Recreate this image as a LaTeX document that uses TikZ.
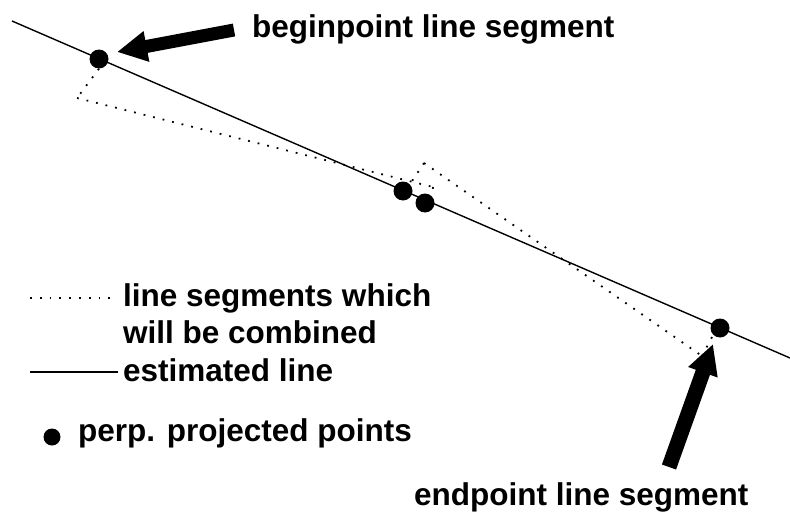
\documentclass[tikz,border=0pt]{standalone}
\usepackage{fontspec}
\setmainfont{Liberation Sans}
\usetikzlibrary{arrows.meta}
\begin{document}
\begin{tikzpicture}[x=1pt,y=-1pt,
  lbl/.style={anchor=base west,inner sep=0pt,font=\bfseries\fontsize{31.5}{36}\selectfont},
  est/.style={line width=1.4pt},
  seg/.style={line width=1.8pt,dash pattern=on 1.8pt off 8pt},
  ppt/.style={circle,fill=black,inner sep=0pt,minimum size=19pt},
  bigarrow/.style={line width=#1,-{Triangle[length=30pt,width=29pt]}}]
\useasboundingbox (0,0) rectangle (790,514);
% estimated line
\coordinate (L1) at (12,21);
\coordinate (L2) at (790,358);
\draw[est] (L1) -- (L2);
% segment end points
\coordinate (S1a) at (77,98);
\coordinate (S1b) at (433,187);
\coordinate (S2a) at (424,163);
\coordinate (S2b) at (702,356);
% projected points
\node[ppt] (P1) at (99,59) {};
\node[ppt] (P2) at (403,191) {};
\node[ppt] (P3) at (425,203) {};
\node[ppt] (P4) at (720,328) {};
% line segments
\draw[seg] (S1a) -- (S1b);
\draw[seg] (S2a) -- (S2b);
\draw[seg] (P1.south) -- (S1a);
\draw[seg] (P2) ++(7,-7) coordinate (P2t) (S2a) -- (P2t);
\draw[seg] (S1b) -- (P3.north east);
\draw[seg] (S2b) -- (P4.south west);
% arrows
\coordinate (A1t) at (234,30);
\coordinate (A1h) at (117,52);
\draw[bigarrow=13pt] (A1t) -- (A1h);
\coordinate (A2t) at (669,467);
\coordinate (A2h) at (713,344);
\draw[bigarrow=15pt] (A2t) -- (A2h);
% labels
\node[lbl] (tb) at (252,37) {beginpoint line segment};
\node[lbl] (te) at (414,505) {endpoint line segment};
% legend
\coordinate (D1) at (30,298);
\coordinate (D2) at (118,298);
\draw[seg] (D1) -- (D2);
\node[lbl] (t1) at (123,306) {line segments which};
\node[lbl] (t2) at (123,343) {will be combined};
\coordinate (E1) at (30,372);
\coordinate (E2) at (118,372);
\draw[est] (E1) -- (E2);
\node[lbl] (t3) at (123,381) {estimated line};
\node[ppt,minimum size=17pt] (LD) at (52,437) {};
\node[lbl] (t4) at (78,441) {perp. projected points};
\end{tikzpicture}
\end{document}
